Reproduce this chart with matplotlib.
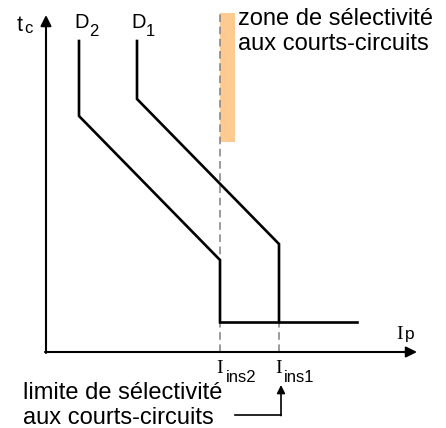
import matplotlib.pyplot as plt

plt.rcParams['font.family'] = ['Liberation Sans', 'DejaVu Sans']

# courbes de declenchement (courant, temps)
d2_x = [33, 33, 174, 174]
d2_y = [311, 236, 92, 30]
d1_x = [91, 91, 233, 233]
d1_y = [311, 253, 108, 30]
inst_x = [174, 311]
inst_y = [30, 30]
i_ins2 = 174
i_ins1 = 233
zone_x = [174, 189]
zone_y = [210, 339]
axe_x_max = 371
axe_y_max = 337

fig = plt.figure(figsize=(4.46, 4.28), dpi=100)
ax = fig.add_axes([0, 0, 1, 1])
ax.set_xlim(-46, 400)
ax.set_ylim(-76, 352)
ax.axis('off')

# zone de selectivite
ax.fill_between(zone_x, zone_y[0], zone_y[1], color='#fdca92', lw=0, zorder=1)
ax.plot([i_ins2, i_ins2], [0, zone_y[1]], color='#808080', lw=1.1, ls=(0, (5, 3)), zorder=2)
ax.plot([i_ins1, i_ins1], [0, inst_y[0]], color='#808080', lw=1.1, ls=(0, (5, 3)), zorder=2)

# axes
ax.annotate('', xy=(axe_x_max, 0), xytext=(-1, 0),
            arrowprops=dict(arrowstyle='-|>', color='black', lw=1.5, mutation_scale=16, shrinkA=0, shrinkB=0))
ax.annotate('', xy=(0, axe_y_max), xytext=(0, -1),
            arrowprops=dict(arrowstyle='-|>', color='black', lw=1.5, mutation_scale=16, shrinkA=0, shrinkB=0))

# courbes
ax.plot(d2_x, d2_y, color='black', lw=1.9, solid_joinstyle='miter', zorder=3)
ax.plot(d1_x, d1_y, color='black', lw=1.9, solid_joinstyle='miter', zorder=3)
ax.plot(inst_x, inst_y, color='black', lw=1.9, zorder=3)

# etiquettes (lettre + indice)
ax.text(-29, 321, 't', fontsize=15.5, va='baseline')
ax.text(-22, 319, 'c', fontsize=12, va='baseline')
ax.text(28, 324, 'D', fontsize=14.5, va='baseline')
ax.text(43, 316, '2', fontsize=12, va='baseline')
ax.text(85, 324, 'D', fontsize=14.5, va='baseline')
ax.text(100, 316, '1', fontsize=12, va='baseline')

ax.text(350, 13, 'I', fontsize=14, va='baseline', family='Liberation Serif')
ax.text(359, 13, 'p', fontsize=12.5, va='baseline')
ax.text(i_ins2 - 4, -21, 'I', fontsize=14, va='baseline', family='Liberation Serif')
ax.text(i_ins2 + 6, -30, 'ins2', fontsize=12, va='baseline')
ax.text(i_ins1 - 4, -21, 'I', fontsize=14, va='baseline', family='Liberation Serif')
ax.text(i_ins1 + 5, -30, 'ins1', fontsize=12, va='baseline')

fs = 17
ax.text(192, 327, 'zone de sélectivité', fontsize=fs, va='baseline')
ax.text(192, 302, 'aux courts-circuits', fontsize=fs, va='baseline')
ax.text(-23, -47, 'limite de sélectivité', fontsize=fs, va='baseline')
ax.text(-23, -72, 'aux courts-circuits', fontsize=fs, va='baseline')

# fleche limite
ax.plot([189, i_ins1 + 2], [-63, -63], color='black', lw=1.2)
ax.annotate('', xy=(i_ins1 + 2, -33), xytext=(i_ins1 + 2, -63.6),
            arrowprops=dict(arrowstyle='-|>', color='black', lw=1.2, mutation_scale=12, shrinkA=0, shrinkB=0))

fig.savefig('out.png', dpi=100)
